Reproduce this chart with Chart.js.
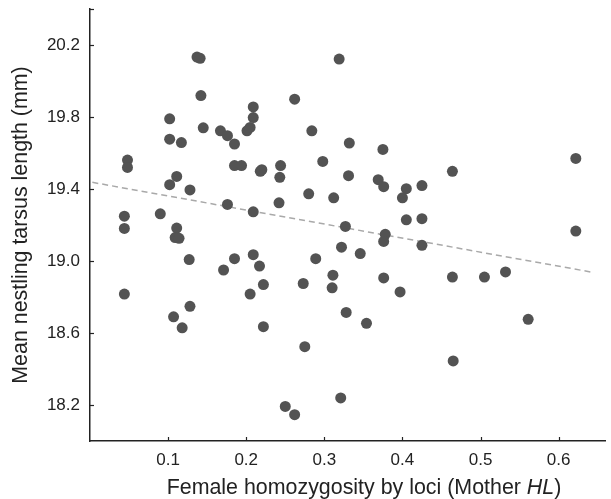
<!DOCTYPE html>
<html>
<head>
<meta charset="utf-8">
<script src="https://cdn.jsdelivr.net/npm/chart.js@4"></script>
<style>
  html, body { margin: 0; padding: 0; background: #fff; }
  #chart { display: block; }
</style>
</head>
<body>
<canvas id="chart" width="611" height="499"></canvas>
<script>
// Female homozygosity (x) vs mean nestling tarsus length (y)
const homozygosity = [
  0.137, 0.141, 0.319, 0.142, 0.262, 0.209, 0.102, 0.209, 0.145, 0.167,
  0.176, 0.185, 0.201, 0.205, 0.284, 0.102, 0.117, 0.332, 0.048, 0.048,
  0.298, 0.185, 0.194, 0.218, 0.220, 0.244, 0.243, 0.111, 0.102, 0.331,
  0.128, 0.280, 0.312, 0.176, 0.242, 0.209, 0.044, 0.044, 0.090, 0.111,
  0.109, 0.114, 0.327, 0.322,
  0.127, 0.185, 0.209, 0.217, 0.171, 0.222, 0.205, 0.044, 0.128, 0.107,
  0.118, 0.222, 0.289, 0.346, 0.273, 0.311, 0.310, 0.328, 0.275, 0.250,
  0.262, 0.321,
  0.375, 0.369, 0.376, 0.405, 0.400, 0.425, 0.464, 0.622, 0.405, 0.425,
  0.378, 0.376, 0.622, 0.425, 0.376, 0.397, 0.464, 0.505, 0.532, 0.354,
  0.561, 0.465
];
const tarsusLength = [
  20.133, 20.126, 20.122, 19.919, 19.899, 19.856, 19.790, 19.797, 19.740, 19.723,
  19.696, 19.650, 19.723, 19.742, 19.723, 19.677, 19.658, 19.655, 19.561, 19.520,
  19.553, 19.530, 19.530, 19.498, 19.507, 19.530, 19.465, 19.470, 19.424, 19.474,
  19.395, 19.373, 19.351, 19.314, 19.323, 19.273, 19.249, 19.181, 19.262, 19.183,
  19.130, 19.126, 19.192, 19.077,
  19.008, 19.013, 19.035, 18.972, 18.950, 18.869, 18.816, 18.816, 18.748, 18.690,
  18.629, 18.635, 19.013, 19.041, 18.875, 18.921, 18.851, 18.714, 18.524, 18.192,
  18.146, 18.239,
  19.620, 19.452, 19.413, 19.402, 19.351, 19.419, 19.498, 19.570, 19.229, 19.235,
  19.148, 19.109, 19.166, 19.087, 18.906, 18.828, 18.911, 18.911, 18.939, 18.654,
  18.676, 18.445
];

// regression line end points
const trendX = [0.003, 0.645];
const trendY = [19.437, 18.936];

// tick values
const xTicks = [0.1, 0.2, 0.3, 0.4, 0.5, 0.6];
const yTicks = [18.2, 18.6, 19.0, 19.4, 19.8, 20.2];
const yTickMarks = [18.2, 18.6, 19.0, 19.4, 19.8, 20.2, 20.4];

const fontFamily = "'Liberation Sans', Arial, Helvetica, sans-serif";
const textColor = '#222';
const axisColor = '#222';
const titleSize = 21.4;

// inward tick marks + x title with italic HL
const axisExtras = {
  id: 'axisExtras',
  afterDraw(chart) {
    const ctx = chart.ctx;
    const xs = chart.scales.x;
    const ys = chart.scales.y;
    const area = chart.chartArea;
    ctx.save();
    ctx.strokeStyle = axisColor;
    ctx.lineWidth = 1.2;
    xTicks.forEach(function(v) {
      const px = Math.round(xs.getPixelForValue(v)) + 0.5;
      ctx.beginPath();
      ctx.moveTo(px, area.bottom);
      ctx.lineTo(px, area.bottom - 4);
      ctx.stroke();
    });
    yTickMarks.forEach(function(v) {
      const py = Math.round(ys.getPixelForValue(v)) + 0.5;
      ctx.beginPath();
      ctx.moveTo(area.left, py);
      ctx.lineTo(area.left + 4, py);
      ctx.stroke();
    });

    // x axis title
    const parts = [
      { text: 'Female homozygosity by loci (Mother ', font: titleSize + 'px ' + fontFamily },
      { text: 'HL', font: 'italic ' + titleSize + 'px ' + fontFamily },
      { text: ')', font: titleSize + 'px ' + fontFamily }
    ];
    let total = 0;
    parts.forEach(function(p) {
      ctx.font = p.font;
      p.w = ctx.measureText(p.text).width;
      total += p.w;
    });
    let x = 364 - total / 2;
    ctx.fillStyle = textColor;
    ctx.textBaseline = 'alphabetic';
    ctx.textAlign = 'left';
    parts.forEach(function(p) {
      ctx.font = p.font;
      ctx.fillText(p.text, x, 494);
      x += p.w;
    });
    ctx.restore();
  }
};

const scatterPoints = homozygosity.map(function(x, i) {
  return { x: x, y: tarsusLength[i] };
});
const trendPoints = trendX.map(function(x, i) {
  return { x: x, y: trendY[i] };
});

function noLabelPadding(scale) {
  scale.paddingTop = 0;
  scale.paddingBottom = 0;
  scale.paddingLeft = 0;
  scale.paddingRight = 0;
}

new Chart(document.getElementById('chart'), {
  type: 'scatter',
  data: {
    datasets: [
      {
        label: 'Nests',
        data: scatterPoints,
        backgroundColor: '#535353',
        borderWidth: 0,
        pointRadius: 5.5,
        pointHoverRadius: 5.5,
        clip: false
      },
      {
        type: 'line',
        label: 'Trend',
        data: trendPoints,
        borderColor: '#a9a9a9',
        borderWidth: 1.5,
        borderDash: [6, 4],
        pointRadius: 0,
        fill: false
      }
    ]
  },
  options: {
    responsive: false,
    animation: false,
    layout: {
      padding: { top: 9, right: 1, bottom: 0, left: 0 }
    },
    plugins: {
      legend: { display: false },
      tooltip: { enabled: false }
    },
    scales: {
      x: {
        type: 'linear',
        min: 0,
        max: 0.66,
        afterFit: function(scale) { scale.height = 58; noLabelPadding(scale); },
        afterBuildTicks: function(scale) {
          scale.ticks = xTicks.map(function(v) { return { value: v }; });
        },
        grid: { display: false, drawTicks: false },
        border: { display: true, color: axisColor, width: 1.5 },
        ticks: {
          padding: 9,
          color: textColor,
          font: { family: fontFamily, size: 17 },
          callback: function(value) { return value.toFixed(1); }
        }
      },
      y: {
        type: 'linear',
        min: 18.0,
        max: 20.4,
        afterFit: function(scale) { scale.width = 90; noLabelPadding(scale); },
        afterBuildTicks: function(scale) {
          scale.ticks = yTicks.map(function(v) { return { value: v }; });
        },
        grid: { display: false, drawTicks: false },
        border: { display: true, color: axisColor, width: 1.5 },
        ticks: {
          padding: 10,
          color: textColor,
          font: { family: fontFamily, size: 17 },
          callback: function(value) { return value.toFixed(1); }
        },
        title: {
          display: true,
          text: 'Mean nestling tarsus length (mm)',
          color: textColor,
          font: { family: fontFamily, size: titleSize, weight: 'normal' },
          padding: { top: 8, bottom: 0 }
        }
      }
    }
  },
  plugins: [axisExtras]
});
</script>
</body>
</html>
